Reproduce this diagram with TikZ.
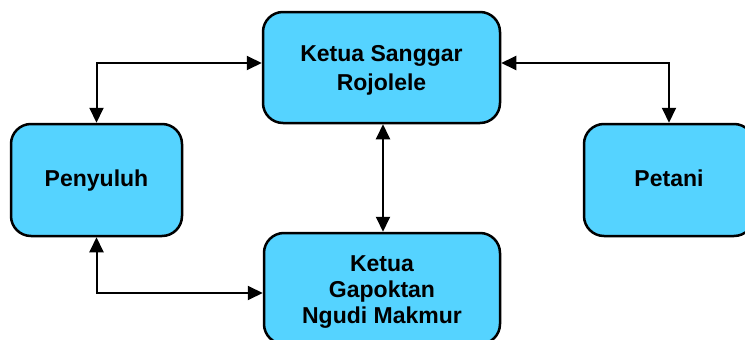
\documentclass[tikz,border=0pt]{standalone}
\usepackage{fontspec}
\setmainfont{Liberation Sans}
\usetikzlibrary{arrows.meta}
\definecolor{boxfill}{RGB}{85,211,255}
\tikzset{
  box/.style={draw=black, line width=2.5pt, fill=boxfill, rounded corners=20pt,
    align=center, font=\fontsize{23}{29}\selectfont\bfseries, inner sep=0pt},
  conn/.style={line width=2pt, {Triangle[length=15pt,width=14pt]}-{Triangle[length=15pt,width=14pt]}},
}
\begin{document}
\begin{tikzpicture}[x=1pt,y=-1pt]
\useasboundingbox (0,0) rectangle (745,340);
\node[box, minimum width=237pt, minimum height=111pt, text height=45.5pt, text depth=0.5pt] (kss) at (381.5,67.5) {Ketua Sanggar\\Rojolele};
\node[box, minimum width=171pt, minimum height=112pt, text height=16.5pt, text depth=4.5pt] (peny) at (96.5,180) {Penyuluh};
\node[box, minimum width=170pt, minimum height=112pt, text height=16.5pt, text depth=4.5pt] (pet) at (669,180) {Petani};
\node[box, minimum width=236pt, minimum height=111pt, text height=70.8pt, text depth=0pt, font=\fontsize{23}{26.3}\selectfont\bfseries] (gap) at (382,288.5) {Ketua\\Gapoktan\\Ngudi Makmur};
\coordinate (kssL) at ([yshift=4.5pt]kss.west);
\coordinate (kssR) at ([yshift=4.5pt]kss.east);
\coordinate (gapL) at ([yshift=-4.5pt]gap.west);
\coordinate (kssB) at ([xshift=1.5pt]kss.south);
\draw[conn] (peny.north) |- (kssL);
\draw[conn] (kssR) -| (pet.north);
\draw[conn] (peny.south) |- (gapL);
\draw[conn] (kssB) -- (kssB |- gap.north);
\end{tikzpicture}
\end{document}
